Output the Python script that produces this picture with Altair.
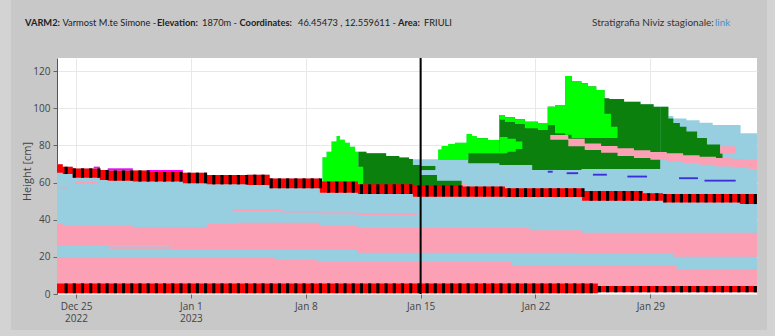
import math
import altair as alt
import pandas as pd

# ---------------- grain-type colours ----------------
C_FC = "#98cfe0"   # faceted crystals (light blue)
C_RG = "#fba0b5"   # rounded grains (pink)
C_PP = "#00ff00"   # precipitation particles (lime)
C_DF = "#0c800c"   # decomposing fragments (dark green)
C_MF = "#ff0000"   # melt-freeze crust (red)
C_SH = "#ff00ff"   # surface hoar (magenta)
C_DH = "#3a2fd8"   # depth hoar (blue)

# x = days since 2022-12-25 00:00
X_MIN, X_MAX = -1.16, 41.5
Y_MAX = 127
MARK_DAY = 21.0          # Jan 15 marker line

TICK_DAYS = [0, 7, 14, 21, 28, 35]
TICK_LINE1 = ["Dec 25", "Jan 1", "Jan 8", "Jan 15", "Jan 22", "Jan 29"]
TICK_LINE2 = ["2022", "2023", "", "", "", ""]
Y_TICKS = [0, 20, 40, 60, 80, 100, 120]

# ---------------- layers: (t, bottom, top) steps ----------------
SNOWPACK = [
    (-1.16, 0.4, 69.8), (-0.81, 0.4, 68.5), (-0.20, 0.4, 67.6), (1.08, 0.4, 68.5), (1.45, 0.4, 66.7),
    (1.93, 0.4, 67.6), (3.46, 0.4, 66.5), (4.31, 0.4, 66.7), (6.51, 0.4, 65.3), (7.97, 0.4, 64.0),
    (10.41, 0.4, 64.2), (11.8, 0.4, 62.2), (14.86, 0.4, 60.5), (15.02, 0.4, 73.6), (15.27, 0.4, 76.6),
    (15.57, 0.4, 82.0), (15.88, 0.4, 85.0), (16.08, 0.4, 83.0), (16.38, 0.4, 81.4), (16.69, 0.4, 79.3),
    (17.0, 0.4, 76.6), (17.7, 0.4, 75.7), (18.9, 0.4, 74.3), (19.7, 0.4, 73.4), (20.3, 0.4, 72.7),
    (20.53, 0.4, 72.5), (22.07, 0.4, 77.8), (22.28, 0.4, 79.7), (22.68, 0.4, 80.7), (23.09, 0.4, 81.4),
    (23.8, 0.4, 86.1), (24.1, 0.4, 85.0), (24.4, 0.4, 83.8), (25.1, 0.4, 82.9), (25.8, 0.4, 96.3),
    (26.14, 0.4, 95.1), (26.75, 0.4, 94.0), (27.35, 0.4, 92.7), (28.15, 0.4, 91.8), (28.75, 0.4, 100.8),
    (29.19, 0.4, 101.7), (29.8, 0.4, 117.3), (30.2, 0.4, 114.3), (30.8, 0.4, 113.4), (31.2, 0.4, 111.6),
    (31.7, 0.4, 109.8), (31.8, 0.9, 109.8), (32.2, 0.9, 105.3), (32.5, 0.9, 104.9), (33.4, 0.9, 103.5),
    (34.4, 0.9, 102.1), (35.2, 0.9, 100.8), (36.1, 0.9, 95.8), (36.4, 0.9, 94.5), (37.2, 0.9, 93.5),
    (38.0, 0.9, 92.2), (38.8, 0.9, 91.0), (40.5, 0.9, 86.5),
]
RG_LOW = [(-1.16, 5.7, 19.9), (12.1, 5.7, 18.3), (14.7, 5.7, 17.3), (26.57, 5.7, 15.5),
          (31.8, 4.3, 15.5), (36.6, 4.3, 13.3)]
RG_MID = [(-1.16, 26.4, 37.7), (-0.81, 26.4, 36.6), (3.46, 26.4, 35.9), (5.85, 23.7, 35.9),
          (7.97, 23.7, 37.7), (9.8, 23.7, 38.4), (14.86, 23.7, 36.6), (17.18, 22.2, 35.5),
          (27.66, 22.2, 34.3), (30.6, 21.5, 34.3), (30.84, 21.5, 32.9), (36.4, 20.1, 32.9)]
RG_THIN_A = [(2.0, 24.3, 25.5)]
RG_THIN_B = [(9.55, 44.7, 45.6), (12.6, 43.8, 44.7), (14.86, 42.9, 43.8), (17.18, 42.5, 43.4)]
RG_DOT_A = [(-0.95, 56.9, 57.7)]
RG_DOT_B = [(-0.08, 59.2, 60.5)]
RG_DOT_C = [(23.5, 58.1, 59.7)]
RG_TOP = [(28.9, 83.0, 85.6), (30.0, 79.5, 83.5), (31.0, 77.5, 81.0), (32.0, 76.0, 79.6),
          (33.0, 74.3, 78.4), (34.0, 73.2, 77.3), (35.0, 72.3, 76.4), (36.0, 71.2, 75.7),
          (37.0, 70.3, 74.7), (38.0, 69.5, 73.9), (39.0, 68.6, 73.2), (40.0, 67.8, 72.6),
          (41.0, 67.1, 72.1)]
RG_TOP_B = [(39.25, 75.5, 79.5)]

DF_1 = [(17.2, 56.0, 76.6), (17.7, 56.0, 75.7), (18.9, 56.0, 74.3), (19.7, 56.0, 73.4),
        (20.3, 56.0, 72.7), (20.53, 55.0, 69.4), (21.0, 55.0, 64.0), (22.0, 55.0, 61.0)]
DF_1B = [(21.0, 66.7, 68.9)]
DF_2 = [(23.9, 70.3, 86.1), (24.1, 70.3, 85.0), (24.4, 70.3, 83.8), (25.1, 70.3, 82.9),
        (25.8, 69.4, 96.3), (26.14, 69.4, 95.1), (26.75, 69.4, 94.0), (27.35, 69.4, 92.7),
        (27.8, 66.7, 92.7), (28.15, 66.7, 91.8), (28.75, 66.7, 100.8), (29.19, 66.7, 101.7),
        (29.8, 66.7, 117.3), (30.2, 66.7, 114.3), (30.8, 67.3, 113.4), (31.2, 67.3, 111.6),
        (31.7, 67.3, 109.8), (32.2, 67.3, 105.3), (32.5, 67.3, 104.9), (33.4, 67.3, 103.5),
        (34.4, 67.3, 102.1), (35.2, 67.3, 100.8)]
DF_WEDGE = [(35.6, 73.5, 100.8), (36.1, 73.5, 94.5), (36.4, 73.5, 92.0), (36.8, 72.0, 90.0),
            (37.2, 72.0, 87.5), (37.85, 71.0, 84.0), (38.45, 71.0, 80.5), (39.25, 71.0, 77.0)]

PP_1 = [(15.02, 57.0, 73.6), (15.27, 57.0, 76.6), (15.57, 57.0, 82.0), (15.88, 57.0, 85.0),
        (16.08, 57.0, 83.0), (16.38, 57.0, 81.4), (16.69, 57.0, 79.3), (17.0, 57.0, 76.6),
        (17.2, 56.0, 68.5)]
PP_2 = [(22.07, 72.1, 77.8), (22.28, 72.1, 79.7), (22.68, 72.1, 80.7), (23.09, 72.1, 81.4),
        (23.8, 72.1, 86.1), (23.9, 75.7, 86.1), (24.1, 75.7, 85.0), (24.4, 75.7, 83.8),
        (25.1, 75.7, 82.9)]
PP_2B = [(25.8, 75.7, 84.5), (26.3, 76.5, 83.5), (26.8, 78.0, 82.0)]
PP_3 = [(25.8, 93.8, 96.3), (26.14, 92.6, 95.1), (26.75, 91.5, 94.0), (27.35, 89.2, 92.7),
        (28.15, 88.3, 91.8)]
PP_4 = [(28.75, 91.0, 100.8), (29.19, 86.5, 101.7), (29.8, 85.7, 117.3), (30.2, 84.0, 114.3),
        (30.8, 84.0, 113.4), (31.2, 84.0, 111.6), (31.7, 84.0, 109.8), (32.2, 84.0, 97.0),
        (32.6, 84.0, 90.0)]

MF_TOP = [(-1.16, 65.3, 69.8), (-0.81, 64.6, 68.5), (-0.20, 62.6, 67.6), (1.45, 61.4, 66.7),
          (1.93, 61.0, 66.5), (3.46, 60.5, 66.5), (4.31, 60.5, 65.7), (6.51, 59.6, 65.3),
          (7.97, 59.0, 64.0), (10.41, 58.7, 64.2), (11.8, 56.9, 62.2), (14.86, 54.5, 60.5),
          (17.18, 53.8, 59.0), (20.53, 52.4, 58.4), (23.58, 52.4, 57.8), (26.14, 52.2, 56.9),
          (30.84, 50.2, 55.4), (34.55, 50.2, 54.2), (35.77, 49.3, 53.8), (40.46, 48.4, 53.8)]
MF_BOTTOM = [(-1.16, 0.4, 5.7), (31.8, 0.9, 4.3)]

SH_A = [(1.08, 67.6, 68.5)]
SH_B = [(1.93, 66.5, 67.6)]
SH_C = [(4.31, 65.7, 66.7)]

DH_1 = [(28.75, 65.3, 66.3)]
DH_2 = [(29.9, 64.5, 65.5)]
DH_3 = [(31.5, 63.7, 64.7)]
DH_4 = [(33.6, 62.7, 63.7)]
DH_5 = [(36.75, 61.8, 62.8)]
DH_6 = [(38.3, 60.5, 61.5)]

# drawing passes: (name, colour, steps, end day)
PASSES = [
    [("base", C_FC, SNOWPACK, X_MAX)],
    [("rg_low", C_RG, RG_LOW, X_MAX), ("rg_mid", C_RG, RG_MID, X_MAX),
     ("rg_thin_a", C_RG, RG_THIN_A, 5.85), ("rg_thin_b", C_RG, RG_THIN_B, 20.8),
     ("rg_dot_a", C_RG, RG_DOT_A, -0.5), ("rg_dot_b", C_RG, RG_DOT_B, 1.28),
     ("rg_dot_c", C_RG, RG_DOT_C, 23.8)],
    [("df_1", C_DF, DF_1, 23.5), ("df_1b", C_DF, DF_1B, 21.9), ("df_2", C_DF, DF_2, 35.6),
     ("df_wedge", C_DF, DF_WEDGE, 39.4)],
    [("pp_1", C_PP, PP_1, 17.5), ("pp_2", C_PP, PP_2, 25.8), ("pp_2b", C_PP, PP_2B, 27.2),
     ("pp_3", C_PP, PP_3, 28.75), ("pp_4", C_PP, PP_4, 33.0),
     ("rg_top", C_RG, RG_TOP, X_MAX), ("rg_top_b", C_RG, RG_TOP_B, 40.2)],
    [("mf_top", C_MF, MF_TOP, X_MAX), ("mf_bottom", C_MF, MF_BOTTOM, X_MAX),
     ("sh_a", C_SH, SH_A, 1.45), ("sh_b", C_SH, SH_B, 3.46), ("sh_c", C_SH, SH_C, 6.51),
     ("dh_1", C_DH, DH_1, 29.05), ("dh_2", C_DH, DH_2, 30.6), ("dh_3", C_DH, DH_3, 32.35),
     ("dh_4", C_DH, DH_4, 34.8), ("dh_5", C_DH, DH_5, 37.9), ("dh_6", C_DH, DH_6, 40.2)],
]
CRUSTS = [(MF_TOP, X_MAX), (MF_BOTTOM, X_MAX)]


def band_rows(name, color, steps, end):
    rows = [dict(band=name, color=color, t=t, lo=lo, hi=hi) for t, lo, hi in steps]
    rows.append(dict(band=name, color=color, t=end, lo=steps[-1][1], hi=steps[-1][2]))
    return rows


def stripe_rows(steps, end, period=0.5, phase=0.30, width=0.19):
    rows = []
    t0 = steps[0][0]
    s = math.floor(t0 / period) * period + phase
    while s < end:
        if s >= t0:
            cur = steps[0]
            for st in steps:
                if st[0] <= s:
                    cur = st
            rows.append(dict(t=s, t2=min(s + width, end), lo=cur[1], hi=cur[2]))
        s += period
    return rows


expr = "''"
for d, l1, l2 in reversed(list(zip(TICK_DAYS, TICK_LINE1, TICK_LINE2))):
    lab = f"['{l1}','{l2}']" if l2 else f"'{l1}'"
    expr = f"datum.value == {d} ? {lab} : ({expr})"

x_scale = alt.Scale(domain=[X_MIN, X_MAX], nice=False, zero=False)
y_scale = alt.Scale(domain=[0, Y_MAX], nice=False, zero=False)
x_axis = alt.Axis(values=TICK_DAYS, labelExpr=expr, title=None, grid=True, gridColor="#e8e8e8",
                  domain=False, tickColor="#666666", tickSize=4, labelFlush=False,
                  labelFont="Open Sans", labelFontSize=10, labelColor="#444444",
                  labelPadding=3, labelLineHeight=12.5)
y_axis = alt.Axis(values=Y_TICKS, title="Height [cm]", grid=True, gridColor="#e8e8e8",
                  domain=True, domainColor="#555555", tickColor="#666666", tickSize=4,
                  labelFont="Open Sans", labelFontSize=10, labelColor="#444444", labelPadding=3,
                  titleFont="Open Sans", titleFontSize=11, titleFontWeight="normal",
                  titleColor="#444444", titleX=-29.5, titleY=113, titleBaseline="middle",
                  titleAlign="center")


def xe(f):
    return alt.X(f"{f}:Q", scale=x_scale, axis=x_axis)


def ye(f):
    return alt.Y(f"{f}:Q", scale=y_scale, axis=y_axis, stack=False)


layers = []
one = pd.DataFrame({"k": [1]})

# lighter border of the grey panel
for (xa, xb, ya, yb) in [(-57, -46, -58, 278), (710, 718, -58, 278), (-57, 718, 272, 278)]:
    layers.append(alt.Chart(one).mark_rect(color="#d3d3d3").encode(
        x=alt.value(xa), x2=alt.value(xb), y=alt.value(ya), y2=alt.value(yb)))

for p in PASSES:
    rows = []
    for name, color, steps, end in p:
        rows += band_rows(name, color, steps, end)
    df = pd.DataFrame(rows)
    layers.append(alt.Chart(df).mark_area(interpolate="step-after").encode(
        x=xe("t"), y=ye("lo"), y2="hi",
        color=alt.Color("color:N", scale=None), detail="band:N"))

srows = []
for steps, end in CRUSTS:
    srows += stripe_rows(steps, end)
layers.append(alt.Chart(pd.DataFrame(srows)).mark_rect(color="#000000").encode(
    x=xe("t"), x2="t2", y=ye("lo"), y2="hi"))

layers.append(alt.Chart(pd.DataFrame({"t": [MARK_DAY]})).mark_rule(
    color="#000000", strokeWidth=2).encode(x=xe("t")))

# header texts (page coordinates minus plot origin 57,58)
HEADER = [
    ("VARM2:", "bold", 25, "#222222", 9.3),
    ("Varmost M.te Simone -", "normal", 62.5, "#222222", 9.3),
    ("Elevation:", "bold", 157, "#222222", 9.3),
    ("1870m -", "normal", 202, "#222222", 9.3),
    ("Coordinates:", "bold", 239.5, "#222222", 9.3),
    ("46.45473 , 12.559611 -", "normal", 298, "#222222", 9.3),
    ("Area:", "bold", 398, "#222222", 9.3),
    ("FRIULI", "normal", 424, "#222222", 9.3),
    ("Stratigrafia Niviz stagionale:", "normal", 592, "#333333", 10),
    ("link", "normal", 715, "#4a90c8", 10),
]
for txt, w, px, col, fs in HEADER:
    layers.append(alt.Chart(one).mark_text(
        align="left", baseline="middle", font="Lato", fontSize=fs, fontWeight=w, color=col
    ).encode(x=alt.value(px - 57), y=alt.value(23 - 58), text=alt.value(txt)))

chart = alt.layer(*layers).properties(
    width=700, height=236,
    padding={"left": 57, "top": 58, "right": 18, "bottom": 42},
    autosize=alt.AutoSizeParams(type="none"),
    background="#c8c8c8",
).configure_view(strokeWidth=0, fill="#ffffff")

chart.save("out.html", embed_options={"renderer": "svg", "actions": False})
